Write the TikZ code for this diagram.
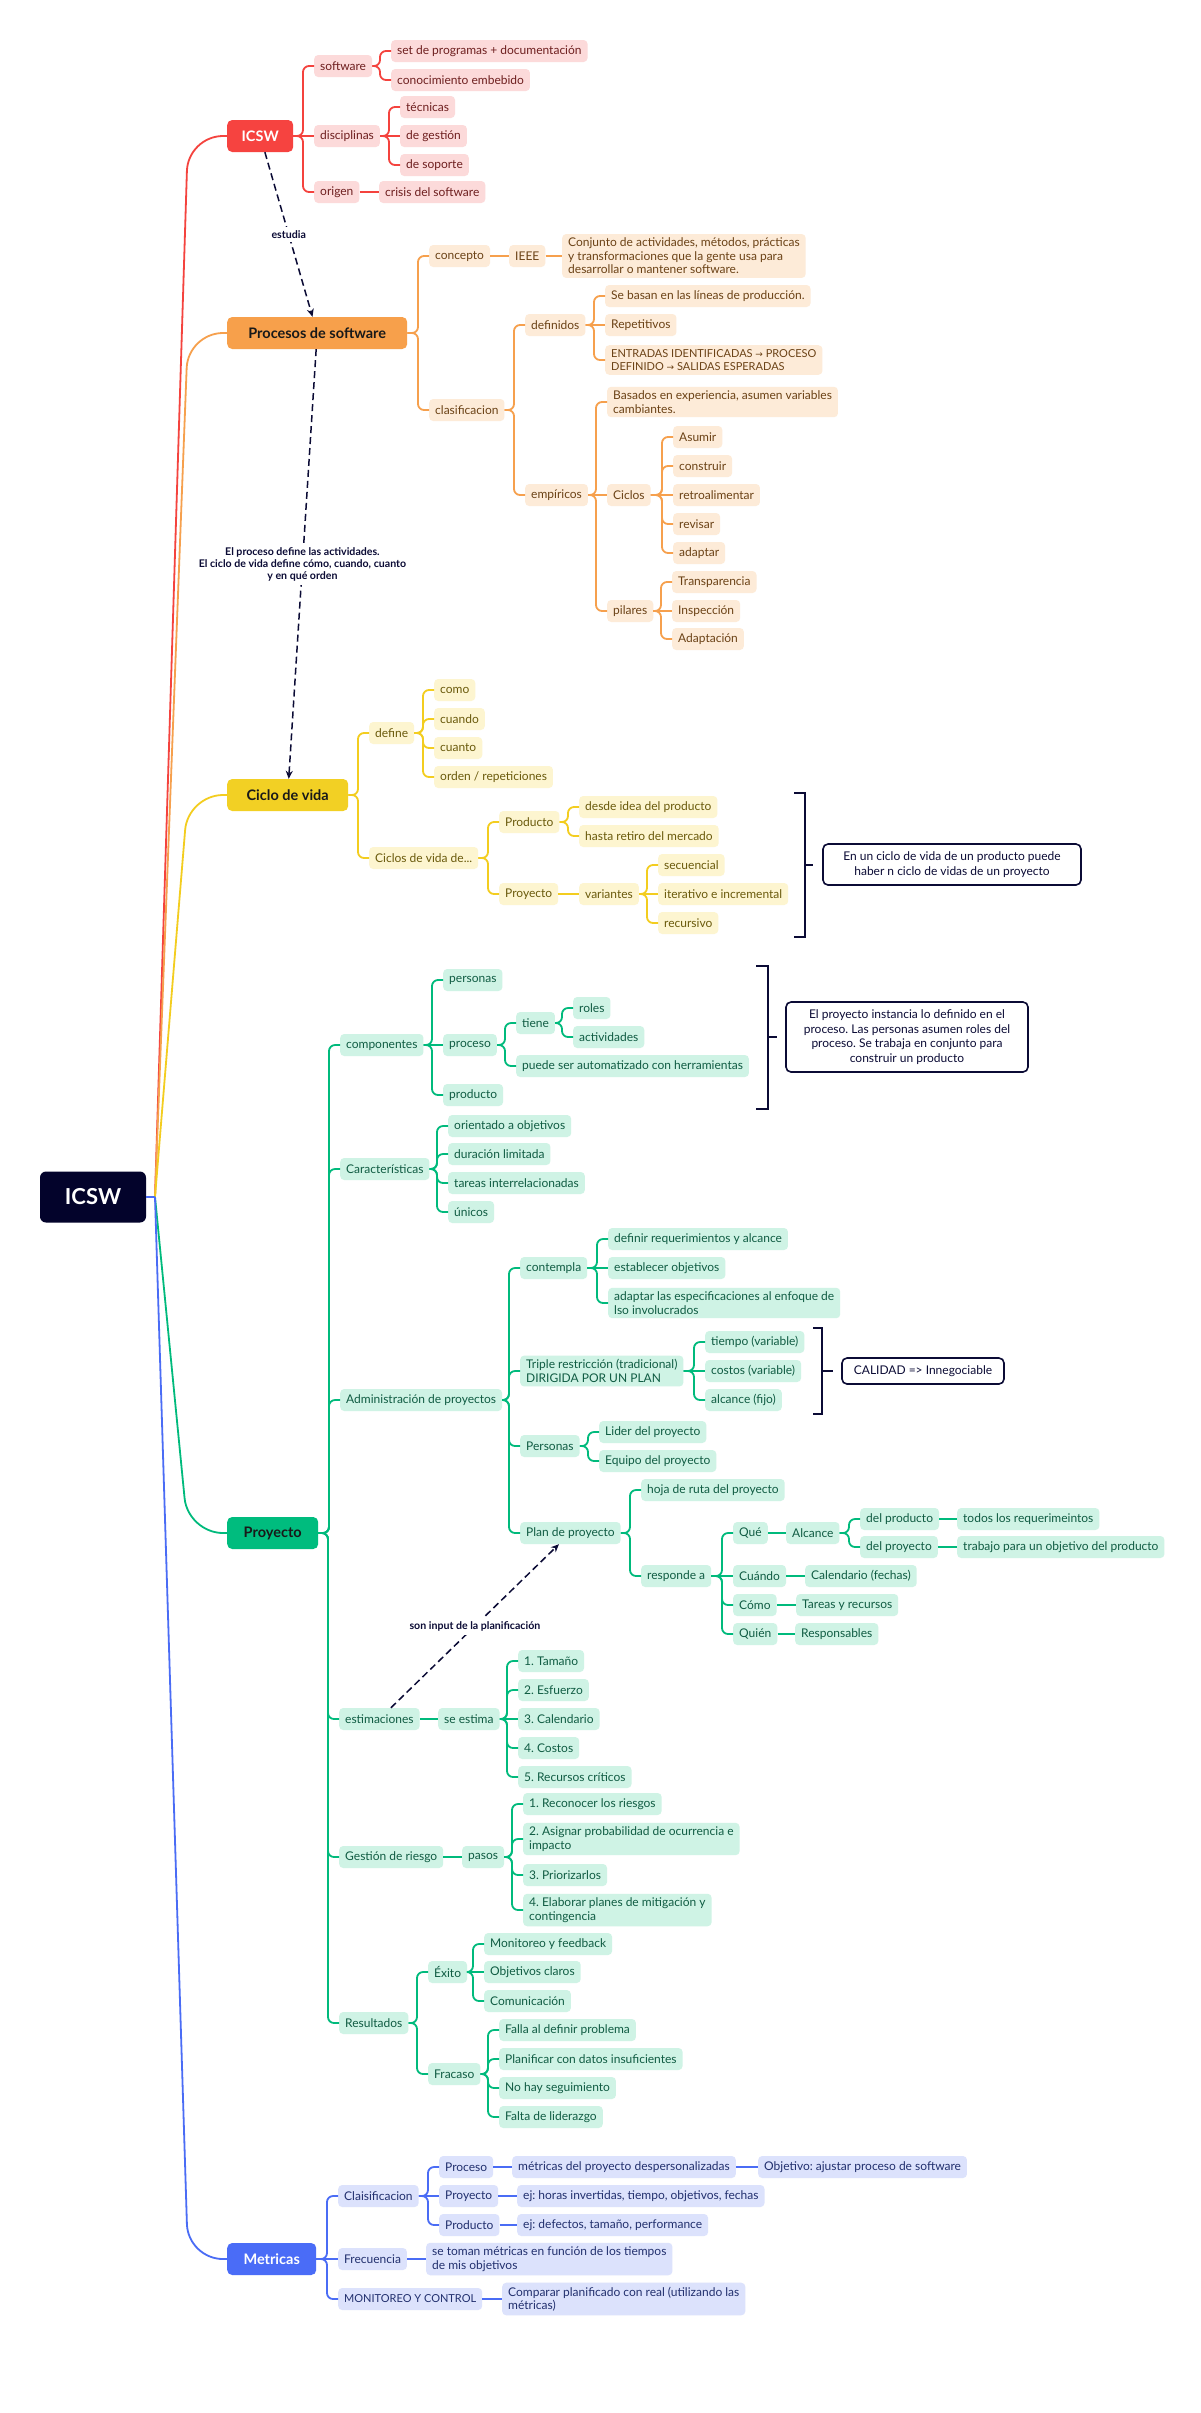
\documentclass[tikz,border=0pt]{standalone}
\usepackage{fontspec}
\setmainfont{Lato}
\newfontfamily\arrowfont{DejaVu Sans}
\usetikzlibrary{arrows.meta,calc}
\frenchspacing
\definecolor{navy}{HTML}{0B0B35}
\definecolor{rootc}{HTML}{03032B}
\definecolor{rM}{HTML}{F64340}\definecolor{rL}{HTML}{F4433E}\definecolor{rF}{HTML}{FCDADA}\definecolor{rT}{HTML}{6E1F1F}
\definecolor{oM}{HTML}{F7A04B}\definecolor{oL}{HTML}{F6A04D}\definecolor{oF}{HTML}{FDEBD8}\definecolor{oT}{HTML}{6B4216}
\definecolor{yM}{HTML}{F2D024}\definecolor{yL}{HTML}{F3CD1F}\definecolor{yF}{HTML}{FDF5D0}\definecolor{yT}{HTML}{6A5A0C}
\definecolor{gM}{HTML}{00BC7E}\definecolor{gL}{HTML}{00BA7C}\definecolor{gF}{HTML}{CFF3E5}\definecolor{gT}{HTML}{105C43}
\definecolor{bM}{HTML}{4A6CF7}\definecolor{bL}{HTML}{4A6CF5}\definecolor{bF}{HTML}{DCE2FC}\definecolor{bT}{HTML}{22306E}
\newcommand\br[2]{\path (#2.west) ++(-11,0) coordinate (tmpc);\draw[rounded corners=6pt] (#1.east) -- (tmpc |- #1.east) -- (tmpc) -- (#2.west);}
\newcommand\st[2]{\draw (#1.east) -- (#2.west);}
\newcommand\ar{{\arrowfont\fontsize{9}{10}\selectfont →}}
\tikzset{
  sub/.style={anchor=west, rounded corners=4pt, minimum height=22pt, inner xsep=6pt, inner ysep=4pt, font=\fontsize{12}{13.5}\selectfont, align=left},
  rsub/.style={sub, fill=rF, text=rT},
  osub/.style={sub, fill=oF, text=oT},
  ysub/.style={sub, fill=yF, text=yT},
  gsub/.style={sub, fill=gF, text=gT},
  bsub/.style={sub, fill=bF, text=bT},
  small/.style={font=\fontsize{11}{13.5}\selectfont},
  mainn/.style={anchor=west, rounded corners=5pt, minimum height=32pt, inner xsep=6pt, font=\fontsize{14.5}{16}\selectfont\bfseries},
  note/.style={draw=navy, line width=1.6pt, fill=white, rounded corners=5pt, text=navy, align=center, font=\fontsize{12}{14.4}\selectfont},
  lbl/.style={fill=white, text=navy, font=\fontsize{10.6}{12}\selectfont\bfseries, align=center, inner sep=4pt},
  dasharrow/.style={draw=navy, line width=1.5pt, dash pattern=on 7pt off 4pt, -{Stealth[length=8pt,width=7pt]}},
  brk/.style={draw=navy, line width=1.6pt},
}
\begin{document}
\begin{tikzpicture}[x=1pt,y=-1pt]
\fill[white] (0,0) rectangle (1200,2413);
\useasboundingbox (0,0) rectangle (1200,2413);

% root
\node[fill=rootc, text=white, rounded corners=6pt, minimum width=106pt, minimum height=51pt, font=\fontsize{22}{24}\selectfont\bfseries] (root) at (93,1197) {ICSW};

% main nodes
\node[mainn, fill=rM, text=white, minimum width=66pt] (icsw) at (227,136) {ICSW};
\node[mainn, fill=oM, text=black!90, minimum width=180pt] (procesos) at (227,333) {Procesos de software};
\node[mainn, fill=yM, text=black!90, minimum width=121pt] (ciclo) at (227,795) {Ciclo de vida};
\node[mainn, fill=gM, text=black!90, minimum width=91pt] (proyecto) at (227,1533) {Proyecto};
\node[mainn, fill=bM, text=white, minimum width=89pt] (metricas) at (227,2259) {Metricas};

% main connectors
\coordinate (hub) at (155,1197);
\coordinate (vx) at (188,0);
\begin{scope}[line width=1.8pt]
\draw[rL] (root.east) -- (hub);
\draw[rL, rounded corners=35pt] (hub) -- (vx |- icsw.west) -- (icsw.west);
\draw[oL, rounded corners=35pt] (hub) -- (vx |- procesos.west) -- (procesos.west);
\draw[yL, rounded corners=35pt] (hub) -- (vx |- ciclo.west) -- (ciclo.west);
\draw[gL, rounded corners=35pt] (hub) -- (vx |- proyecto.west) -- (proyecto.west);
\draw[bL, rounded corners=35pt] (hub) -- (vx |- metricas.west) -- (metricas.west);
\draw[bL] (root.east) -- (hub);
\end{scope}

% ---------------- RED ----------------
\node[rsub] (software) at (314,66) {software};
\node[rsub] (disciplinas) at (314,136) {disciplinas};
\node[rsub] (origen) at (314,192) {origen};
\node[rsub] (setprog) at (391,51) {set de programas + documentación};
\node[rsub] (conoc) at (391,80) {conocimiento embebido};
\node[rsub] (tecnicas) at (400,107) {técnicas};
\node[rsub] (degestion) at (400,136) {de gestión};
\node[rsub] (desoporte) at (400,165) {de soporte};
\node[rsub] (crisis) at (379,192) {crisis del software};
\begin{scope}[draw=rL, line width=1.8pt]
\br{icsw}{software}\st{icsw}{disciplinas}\br{icsw}{origen}
\br{software}{setprog}\br{software}{conoc}
\br{disciplinas}{tecnicas}\st{disciplinas}{degestion}\br{disciplinas}{desoporte}
\st{origen}{crisis}
\end{scope}

% ---------------- ORANGE ----------------
\node[osub] (concepto) at (429,256) {concepto};
\node[osub] (ieee) at (509,256) {IEEE};
\node[osub] (conjunto) at (562,256) {Conjunto de actividades, métodos, prácticas\\y transformaciones que la gente usa para\\desarrollar o mantener software.};
\node[osub] (clasif) at (429,410) {clasificacion};
\node[osub] (definidos) at (525,325) {definidos};
\node[osub] (sebasan) at (605,296) {Se basan en las líneas de producción.};
\node[osub] (repet) at (605,325) {Repetitivos};
\node[osub, small] (entradas) at (605,360) {ENTRADAS IDENTIFICADAS \ar{} PROCESO\\DEFINIDO \ar{} SALIDAS ESPERADAS};
\node[osub] (empiricos) at (525,495) {empíricos};
\node[osub] (basados) at (607,402) {Basados en experiencia, asumen variables\\cambiantes.};
\node[osub] (ciclos) at (607,495) {Ciclos};
\node[osub] (pilares) at (607,611) {pilares};
\node[osub] (asumir) at (673,437) {Asumir};
\node[osub] (construir) at (673,466) {construir};
\node[osub] (retro) at (673,495) {retroalimentar};
\node[osub] (revisar) at (673,524) {revisar};
\node[osub] (adaptar) at (673,553) {adaptar};
\node[osub] (transp) at (672,582) {Transparencia};
\node[osub] (inspec) at (672,611) {Inspección};
\node[osub] (adaptac) at (672,639) {Adaptación};
\begin{scope}[draw=oL, line width=1.8pt]
\br{procesos}{concepto}\br{procesos}{clasif}
\st{concepto}{ieee}\st{ieee}{conjunto}
\br{clasif}{definidos}\br{clasif}{empiricos}
\br{definidos}{sebasan}\st{definidos}{repet}\br{definidos}{entradas}
\br{empiricos}{basados}\st{empiricos}{ciclos}\br{empiricos}{pilares}
\br{ciclos}{asumir}\br{ciclos}{construir}\st{ciclos}{retro}\br{ciclos}{revisar}\br{ciclos}{adaptar}
\br{pilares}{transp}\st{pilares}{inspec}\br{pilares}{adaptac}
\end{scope}

% ---------------- YELLOW ----------------
\node[ysub] (define) at (369,733) {define};
\node[ysub] (como) at (434,690) {como};
\node[ysub] (cuando) at (434,719) {cuando};
\node[ysub] (cuanto) at (434,748) {cuanto};
\node[ysub] (orden) at (434,777) {orden / repeticiones};
\node[ysub] (ciclosde) at (369,858) {Ciclos de vida de...};
\node[ysub] (productoY) at (499,822) {Producto};
\node[ysub] (desde) at (579,807) {desde idea del producto};
\node[ysub] (hasta) at (579,836) {hasta retiro del mercado};
\node[ysub] (proyectoY) at (499,894) {Proyecto};
\node[ysub] (variantes) at (579,894) {variantes};
\node[ysub] (secuencial) at (658,865) {secuencial};
\node[ysub] (iterativo) at (658,894) {iterativo e incremental};
\node[ysub] (recursivo) at (658,923) {recursivo};
\begin{scope}[draw=yL, line width=1.8pt]
\br{ciclo}{define}\br{ciclo}{ciclosde}
\br{define}{como}\br{define}{cuando}\br{define}{cuanto}\br{define}{orden}
\br{ciclosde}{productoY}\br{ciclosde}{proyectoY}
\br{productoY}{desde}\br{productoY}{hasta}
\st{proyectoY}{variantes}
\br{variantes}{secuencial}\st{variantes}{iterativo}\br{variantes}{recursivo}
\end{scope}
\draw[brk] (794,793) -- (805,793) -- (805,937) -- (794,937);
\draw[brk] (805,865) -- (813,865);
\node[note, minimum width=258pt, minimum height=41pt] (note1) at (952,864.5) {En un ciclo de vida de un producto puede\\haber n ciclo de vidas de un proyecto};

% ---------------- GREEN ----------------
\node[gsub] (componentes) at (340,1045) {componentes};
\node[gsub] (personas) at (443,980) {personas};
\node[gsub] (procesoG) at (443,1045) {proceso};
\node[gsub] (productoG) at (443,1095) {producto};
\node[gsub] (tiene) at (516,1023) {tiene};
\node[gsub] (roles) at (573,1008) {roles};
\node[gsub] (activ) at (573,1037) {actividades};
\node[gsub] (puede) at (516,1066) {puede ser automatizado con herramientas};
\node[gsub] (caract) at (340,1169) {Características};
\node[gsub] (orientado) at (448,1126) {orientado a objetivos};
\node[gsub] (duracion) at (448,1154) {duración limitada};
\node[gsub] (tareasI) at (448,1183) {tareas interrelacionadas};
\node[gsub] (unicos) at (448,1212) {únicos};
\node[gsub] (admin) at (340,1400) {Administración de proyectos};
\node[gsub] (contempla) at (520,1268) {contempla};
\node[gsub] (definir) at (608,1239) {definir requerimientos y alcance};
\node[gsub] (establecer) at (608,1268) {establecer objetivos};
\node[gsub] (adaptarE) at (608,1303) {adaptar las especificaciones al enfoque de\\lso involucrados};
\node[gsub] (triple) at (520,1371) {Triple restricción (tradicional)\\DIRIGIDA POR UN PLAN};
\node[gsub] (tiempo) at (705,1342) {tiempo (variable)};
\node[gsub] (costos) at (705,1371) {costos (variable)};
\node[gsub] (alcanceF) at (705,1400) {alcance (fijo)};
\node[gsub] (personasA) at (520,1446) {Personas};
\node[gsub] (lider) at (599,1432) {Lider del proyecto};
\node[gsub] (equipo) at (599,1461) {Equipo del proyecto};
\node[gsub] (plan) at (520,1533) {Plan de proyecto};
\node[gsub] (hoja) at (641,1490) {hoja de ruta del proyecto};
\node[gsub] (responde) at (641,1576) {responde a};
\node[gsub] (que) at (733,1533) {Qué};
\node[gsub] (alcance) at (786,1533) {Alcance};
\node[gsub] (delprod) at (860,1519) {del producto};
\node[gsub] (todos) at (957,1519) {todos los requerimeintos};
\node[gsub] (delproy) at (860,1547) {del proyecto};
\node[gsub] (trabajo) at (957,1547) {trabajo para un objetivo del producto};
\node[gsub] (cuandoG) at (733,1576) {Cuándo};
\node[gsub] (calendario) at (805,1576) {Calendario (fechas)};
\node[gsub] (comoG) at (733,1605) {Cómo};
\node[gsub] (tareasR) at (796,1605) {Tareas y recursos};
\node[gsub] (quien) at (733,1634) {Quién};
\node[gsub] (respons) at (795,1634) {Responsables};
\node[gsub] (estim) at (339,1719) {estimaciones};
\node[gsub] (seestima) at (438,1719) {se estima};
\node[gsub] (e1) at (518,1661) {1. Tamaño};
\node[gsub] (e2) at (518,1690) {2. Esfuerzo};
\node[gsub] (e3) at (518,1719) {3. Calendario};
\node[gsub] (e4) at (518,1748) {4. Costos};
\node[gsub] (e5) at (518,1777) {5. Recursos críticos};
\node[gsub] (gestion) at (339,1857) {Gestión de riesgo};
\node[gsub] (pasos) at (462,1857) {pasos};
\node[gsub] (r1) at (523,1804) {1. Reconocer los riesgos};
\node[gsub] (r2) at (523,1839) {2. Asignar probabilidad de ocurrencia e\\impacto};
\node[gsub] (r3) at (523,1875) {3. Priorizarlos};
\node[gsub] (r4) at (523,1910) {4. Elaborar planes de mitigación y\\contingencia};
\node[gsub] (result) at (339,2023) {Resultados};
\node[gsub] (exito) at (428,1972) {Éxito};
\node[gsub] (fracaso) at (428,2074) {Fracaso};
\node[gsub] (monit) at (484,1944) {Monitoreo y feedback};
\node[gsub] (objcl) at (484,1972) {Objetivos claros};
\node[gsub] (comun) at (484,2001) {Comunicación};
\node[gsub] (falla) at (499,2030) {Falla al definir problema};
\node[gsub] (planif) at (499,2059) {Planificar con datos insuficientes};
\node[gsub] (nohay) at (499,2088) {No hay seguimiento};
\node[gsub] (falta) at (499,2117) {Falta de liderazgo};
\begin{scope}[draw=gL, line width=1.8pt]
\br{proyecto}{componentes}\br{proyecto}{caract}\br{proyecto}{admin}\br{proyecto}{estim}\br{proyecto}{gestion}\br{proyecto}{result}
\br{componentes}{personas}\st{componentes}{procesoG}\br{componentes}{productoG}
\br{procesoG}{tiene}\br{procesoG}{puede}
\br{tiene}{roles}\br{tiene}{activ}
\br{caract}{orientado}\br{caract}{duracion}\br{caract}{tareasI}\br{caract}{unicos}
\br{admin}{contempla}\br{admin}{triple}\br{admin}{personasA}\br{admin}{plan}
\br{contempla}{definir}\st{contempla}{establecer}\br{contempla}{adaptarE}
\br{triple}{tiempo}\st{triple}{costos}\br{triple}{alcanceF}
\br{personasA}{lider}\br{personasA}{equipo}
\br{plan}{hoja}\br{plan}{responde}
\br{responde}{que}\st{responde}{cuandoG}\br{responde}{comoG}\br{responde}{quien}
\st{que}{alcance}\br{alcance}{delprod}\br{alcance}{delproy}
\st{delprod}{todos}\st{delproy}{trabajo}
\st{cuandoG}{calendario}\st{comoG}{tareasR}\st{quien}{respons}
\st{estim}{seestima}
\br{seestima}{e1}\br{seestima}{e2}\st{seestima}{e3}\br{seestima}{e4}\br{seestima}{e5}
\st{gestion}{pasos}
\br{pasos}{r1}\br{pasos}{r2}\br{pasos}{r3}\br{pasos}{r4}
\br{result}{exito}\br{result}{fracaso}
\br{exito}{monit}\st{exito}{objcl}\br{exito}{comun}
\br{fracaso}{falla}\br{fracaso}{planif}\br{fracaso}{nohay}\br{fracaso}{falta}
\end{scope}
\draw[brk] (756,966) -- (768,966) -- (768,1109) -- (756,1109);
\draw[brk] (768,1037) -- (777,1037);
\node[note, minimum width=242pt, minimum height=70pt] (note2) at (907,1037) {El proyecto instancia lo definido en el\\proceso. Las personas asumen roles del\\proceso. Se trabaja en conjunto para\\construir un producto};
\draw[brk] (813,1328) -- (822,1328) -- (822,1414) -- (813,1414);
\draw[brk] (822,1371) -- (833,1371);
\node[note, minimum width=162pt, minimum height=26pt] (note3) at (923,1371) {CALIDAD => Innegociable};

% ---------------- BLUE ----------------
\node[bsub] (claisif) at (338,2196) {Claisificacion};
\node[bsub] (procesoB) at (439,2167) {Proceso};
\node[bsub] (metdesp) at (512,2167) {métricas del proyecto despersonalizadas};
\node[bsub] (objetivo) at (758,2167) {Objetivo: ajustar proceso de software};
\node[bsub] (proyectoB) at (439,2196) {Proyecto};
\node[bsub] (ejhoras) at (517,2196) {ej: horas invertidas, tiempo, objetivos, fechas};
\node[bsub] (productoB) at (439,2225) {Producto};
\node[bsub] (ejdef) at (517,2225) {ej: defectos, tamaño, performance};
\node[bsub] (frecuencia) at (338,2259) {Frecuencia};
\node[bsub] (setoman) at (426,2259) {se toman métricas en función de los tiempos\\de mis objetivos};
\node[bsub, small] (monitC) at (338,2299) {MONITOREO Y CONTROL};
\node[bsub] (comparar) at (502,2299) {Comparar planificado con real (utilizando las\\métricas)};
\begin{scope}[draw=bL, line width=1.8pt]
\br{metricas}{claisif}\st{metricas}{frecuencia}\br{metricas}{monitC}
\br{claisif}{procesoB}\st{claisif}{proyectoB}\br{claisif}{productoB}
\st{procesoB}{metdesp}\st{metdesp}{objetivo}
\st{proyectoB}{ejhoras}\st{productoB}{ejdef}
\st{frecuencia}{setoman}\st{monitC}{comparar}
\end{scope}

% dashed relations
\draw[dasharrow] (icsw) -- node[lbl]{estudia} (procesos);
\draw[dasharrow] (procesos) -- node[lbl]{El proceso define las actividades.\\El ciclo de vida define cómo, cuando, cuanto\\y en qué orden} (ciclo);
\draw[dasharrow] (estim) -- node[lbl]{son input de la planificación} (plan);
\end{tikzpicture}
\end{document}
